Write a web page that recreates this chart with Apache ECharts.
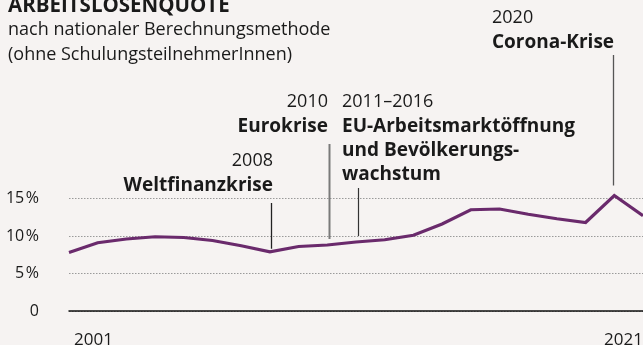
<!DOCTYPE html>
<html>
<head>
<meta charset="utf-8">
<script src="https://cdn.jsdelivr.net/npm/echarts@6/dist/echarts.min.js"></script>
<style>
  html, body { margin: 0; padding: 0; background: #f6f3f2; }
  #chart { width: 643px; height: 345px; }
</style>
</head>
<body>
<div id="chart"></div>
<script>
// Arbeitslosenquote nach nationaler Berechnungsmethode, 2001–2021
const years = ['2001','2002','2003','2004','2005','2006','2007','2008','2009','2010',
               '2011','2012','2013','2014','2015','2016','2017','2018','2019','2020','2021'];
const rate = [7.8, 9.1, 9.6, 9.9, 9.8, 9.4, 8.7, 7.9, 8.6, 8.8,
              9.2, 9.5, 10.1, 11.6, 13.5, 13.6, 12.9, 12.3, 11.8, 15.4, 12.7];
const yTicks = [0, 5, 10, 15];
const shownYears = ['2001', '2021'];

// Event notes: year the leader line points at, small year caption, bold lines
const noteYears = ['2008', '2010', '2011', '2020'];
const noteCaptions = ['2008', '2010', '2011–2016', '2020'];
const noteTitles = [
  ['Weltfinanzkrise'],
  ['Eurokrise'],
  ['EU-Arbeitsmarktöffnung', 'und Bevölkerungs-', 'wachstum'],
  ['Corona-Krise']
];

const FONT = '"Open Sans", "Noto Sans", sans-serif';
const TEXT = '#1a1a1a';

// layout of notes (pixels): leader top, gap above curve, text anchor, alignment
const noteLayout = [
  { top: 203, gap: 3,  tx: 273, ty: 167, align: 'right', stroke: '#222', w: 1.3, dx: 1 },
  { top: 144, gap: 6,  tx: 328, ty: 108, align: 'right', stroke: '#7a7a7a', w: 2, dx: 1.5 },
  { top: 188, gap: 6,  tx: 342, ty: 108, align: 'left',  stroke: '#333', w: 1.2, dx: 1.5 },
  { top: 55,  gap: 10, tx: 492, ty: 24,  align: 'left',  stroke: '#555', w: 1.3, dx: -1 }
];

const chart = echarts.init(document.getElementById('chart'), null, { renderer: 'canvas' });

chart.setOption({
  backgroundColor: '#f6f3f2',
  animation: false,
  grid: { left: 69, right: 0, top: 198.5, bottom: 34, containLabel: false, outerBoundsMode: 'none' },
  xAxis: {
    type: 'category',
    data: years,
    boundaryGap: false,
    axisLine: { show: true, lineStyle: { color: '#111', width: 1.5 } },
    axisTick: { show: false },
    axisLabel: {
      interval: 0,
      formatter: v => (shownYears.includes(v) ? v : ''),
      alignMinLabel: 'left',
      alignMaxLabel: 'right',
      padding: [0, 0, 0, 5],
      margin: 21,
      color: TEXT,
      fontFamily: FONT,
      fontSize: 17
    },
    splitLine: { show: false }
  },
  yAxis: {
    type: 'value',
    min: 0,
    max: 15,
    interval: 5,
    axisLine: { show: false },
    axisTick: { show: false },
    axisLabel: {
      margin: 30,
      color: TEXT,
      fontFamily: FONT,
      fontSize: 16,
      formatter: v => (v === 0 ? '0' : v + '\u200A%')
    },
    splitLine: { show: true, lineStyle: { color: '#9a9a9a', type: [1.5, 1.5], width: 1 } }
  },
  series: [{
    type: 'line',
    data: rate,
    clip: false,
    showSymbol: false,
    symbol: 'none',
    lineStyle: { color: '#6a2a6c', width: 3.2, join: 'miter' },
    z: 5
  }]
});

function buildGraphics() {
  const els = [];
  // heading
  els.push({ type: 'text', x: 8, y: 6.5, style: { text: 'ARBEITSLOSENQUOTE', fill: TEXT,
    font: 'bold 20.5px ' + FONT, align: 'left', verticalAlign: 'middle' } });
  els.push({ type: 'text', x: 8, y: 30, style: { text: 'nach nationaler Berechnungsmethode', fill: TEXT,
    font: '18px ' + FONT, align: 'left', verticalAlign: 'middle' } });
  els.push({ type: 'text', x: 8, y: 55, style: { text: '(ohne SchulungsteilnehmerInnen)', fill: TEXT,
    font: '18px ' + FONT, align: 'left', verticalAlign: 'middle' } });

  noteYears.forEach((yr, i) => {
    const L = noteLayout[i];
    const idx = years.indexOf(yr);
    const p = chart.convertToPixel({ seriesIndex: 0 }, [idx, rate[idx]]);
    const x = Math.round(p[0] + L.dx) + 0.5;
    els.push({ type: 'line', z: 10, shape: { x1: x, y1: L.top, x2: x, y2: p[1] - L.gap },
      style: { stroke: L.stroke, lineWidth: L.w } });
    els.push({ type: 'text', x: L.tx, y: L.ty - 6, style: { text: noteCaptions[i], fill: TEXT,
      font: '18px ' + FONT, align: L.align, verticalAlign: 'middle' } });
    noteTitles[i].forEach((t, k) => {
      const yy = L.ty + 25 + k * 24;
      els.push({ type: 'text', x: L.tx, y: yy - 6, style: { text: t, fill: TEXT,
        font: 'bold 19px ' + FONT, align: L.align, verticalAlign: 'middle' } });
    });
  });
  return els;
}

chart.setOption({ graphic: { elements: buildGraphics() } });
</script>
</body>
</html>
